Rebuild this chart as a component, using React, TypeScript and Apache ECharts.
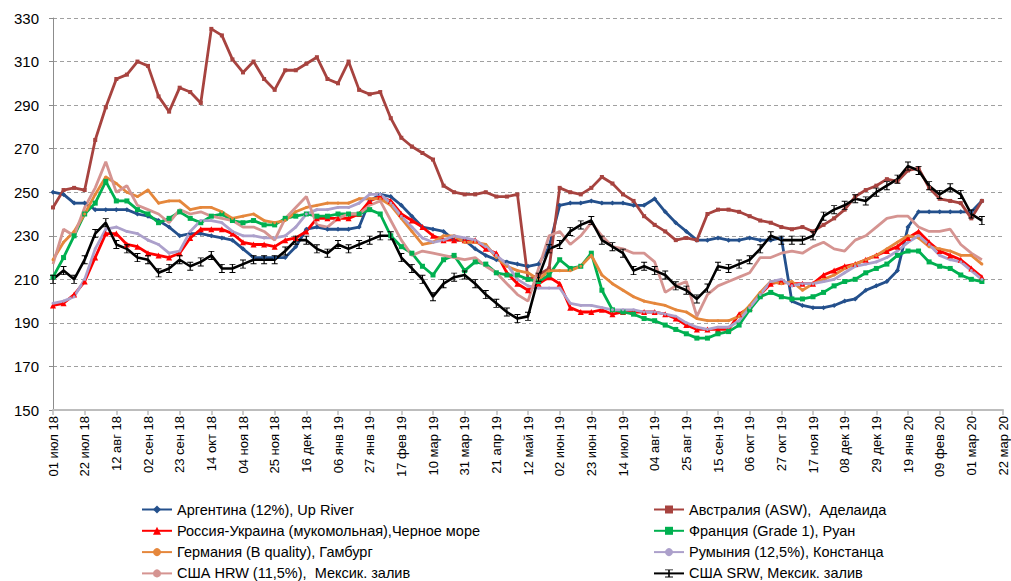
import React, { useEffect, useRef } from "react";
import * as echarts from "echarts";

// Weekly samples starting 01 Jul 2018 (day offset = index * 7)
const STEP_DAYS = 7;

const TICK_LABELS = [
  "01 июл 18", "22 июл 18", "12 авг 18", "02 сен 18", "23 сен 18", "14 окт 18",
  "04 ноя 18", "25 ноя 18", "16 дек 18", "06 янв 19", "27 янв 19", "17 фев 19",
  "10 мар 19", "31 мар 19", "21 апр 19", "12 май 19", "02 июн 19", "23 июн 19",
  "14 июл 19", "04 авг 19", "25 авг 19", "15 сен 19", "06 окт 19", "27 окт 19",
  "17 ноя 19", "08 дек 19", "29 дек 19", "19 янв 20", "09 фев 20", "01 мар 20",
  "22 мар 20",
];

const ARGENTINA = [
  250, 249, 245, 245, 242, 242, 242, 242, 240, 239,
  237, 234, 230, 231, 231, 230, 229, 228, 224, 220,
  220, 220, 220, 225, 233, 234, 233, 233, 233, 234,
  246, 249, 248, 244, 239, 234, 233, 232, 228, 228,
  224, 221, 219, 218, 217, 216, 217, 225, 244, 245,
  245, 246, 245, 245, 245, 244, 244, 247, 241, 236,
  232, 228, 228, 229, 228, 228, 229, 228, 228, 229,
  200, 198, 197, 197, 198, 200, 201, 205, 207, 209,
  214, 234, 241, 241, 241, 241, 241, 241, 246,
];

const AUSTRALIA = [
  243, 251, 252, 251, 274, 289, 302, 304, 310, 308,
  294, 287, 298, 296, 291, 325, 322, 311, 305, 310,
  302, 297, 306, 306, 309, 312, 302, 300, 310, 297,
  295, 296, 284, 275, 271, 268, 265, 253, 250, 249,
  249, 250, 248, 248, 249, 210, 212, 215, 252, 250,
  249, 252, 257, 254, 249, 246, 239, 235, 232, 228,
  229, 228, 240, 242, 242, 241, 239, 237, 236, 234,
  233, 234, 232, 235, 238, 242, 248, 251, 253, 256,
  255, 260, 261, 252, 247, 246, 245, 238, 246,
];

const RUSSIA = [
  198, 199, 203, 209, 220, 231, 231, 226, 225, 222,
  221, 220, 222, 229, 233, 233, 233, 231, 227, 226,
  226, 225, 228, 229, 232, 238, 238, 238, 238, 240,
  246, 248, 246, 240, 237, 234, 230, 228, 228, 228,
  228, 224, 222, 213, 208, 205, 208, 211, 208, 197,
  195, 195, 196, 194, 195, 195, 195, 195, 194, 192,
  189, 187, 187, 187, 187, 194, 197, 203, 208, 209,
  208, 208, 208, 212, 214, 216, 217, 219, 221, 223,
  225, 229, 232, 227, 223, 221, 219, 215, 211,
];

const FRANCE = [
  211, 220, 230, 240, 245, 255, 246, 246, 242, 240,
  236, 238, 241, 238, 236, 239, 240, 237, 236, 237,
  235, 235, 238, 239, 240, 239, 239, 240, 240, 240,
  242, 240, 230, 225, 222, 216, 212, 219, 221, 214,
  218, 217, 213, 212, 212, 210, 209, 212, 219, 215,
  216, 222, 205, 196, 195, 194, 192, 191, 189, 187,
  185, 183, 183, 185, 186, 189, 196, 202, 204, 202,
  201, 201, 202, 204, 207, 209, 210, 213, 215, 217,
  221, 223, 223, 218, 216, 215, 212, 210, 209,
];

const GERMANY = [
  219, 227, 232, 240, 249, 257, 254, 250, 248, 251,
  245, 246, 246, 242, 243, 243, 241, 238, 239, 240,
  237, 236, 237, 241, 243, 244, 245, 245, 245, 247,
  247, 247, 244, 238, 232, 226, 227, 230, 230, 227,
  227, 226, 220, 216, 214, 213, 210, 214, 214, 214,
  216, 221, 212, 208, 205, 202, 200, 199, 198, 196,
  195, 192, 191, 191, 191, 193, 198, 204, 209, 208,
  209, 205, 208, 210, 212, 215, 217, 219, 221, 224,
  227, 230, 229, 225, 224, 223, 221, 221, 217,
];

const ROMANIA = [
  199, 200, 202, 210, 224, 233, 234, 232, 231, 228,
  226, 222, 223, 232, 237, 237, 236, 232, 230, 230,
  229, 229, 230, 234, 240, 242, 242, 243, 243, 245,
  249, 249, 245, 239, 234, 229, 227, 228, 230, 229,
  228, 225, 221, 217, 210, 207, 206, 206, 206, 199,
  198, 198, 197, 196, 196, 196, 195, 195, 194, 193,
  190, 188, 187, 188, 188, 191, 197, 203, 209, 210,
  207, 208, 208, 209, 210, 213, 216, 217, 218, 220,
  223, 227, 230, 226, 221, 219, 218, 214, 210,
];

const USA_HRW = [
  217, 233, 230, 243, 252, 264, 250, 253, 244, 242,
  240, 236, 242, 240, 241, 239, 238, 237, 234, 234,
  232, 228, 238, 243, 248, 235, 234, 238, 240, 240,
  244, 246, 237, 228, 221, 223, 222, 221, 220, 219,
  220, 216, 213, 208, 203, 200, 215, 230, 232, 226,
  230, 236, 230, 225, 224, 222, 222, 218, 204, 207,
  209, 193, 203, 207, 209, 211, 213, 220, 220, 222,
  223, 222, 225, 227, 224, 223, 228, 230, 234, 238,
  239, 239, 234, 232, 232, 233, 226, 222, 219,
];

const USA_SRW = [
  210, 214, 210, 219, 231, 236, 226, 224, 220, 219,
  213, 215, 219, 216, 218, 221, 215, 215, 217, 219,
  219, 219, 223, 228, 228, 224, 222, 226, 224, 226,
  228, 230, 230, 220, 215, 210, 202, 208, 211, 212,
  208, 203, 199, 195, 192, 193, 211, 224, 226, 232,
  235, 237, 228, 225, 222, 214, 216, 214, 212, 207,
  205, 201, 206, 216, 215, 217, 219, 224, 230, 228,
  228, 228, 230, 239, 242, 244, 247, 246, 250, 253,
  256, 262, 260, 253, 249, 252, 249, 240, 237,
];

const NAMES = {
  arg: "Аргентина (12%), Up River",
  aus: "Австралия (ASW),  Аделаида",
  rus: "Россия-Украина (мукомольная),Черное море",
  fra: "Франция (Grade 1), Руан",
  ger: "Германия (B quality), Гамбург",
  rom: "Румыния (12,5%), Констанца",
  hrw: "США HRW (11,5%),  Мексик. залив",
  srw: "США SRW, Мексик. залив",
};

const LEFT_LEGEND = [NAMES.arg, NAMES.rus, NAMES.ger, NAMES.hrw];
const RIGHT_LEGEND = [NAMES.aus, NAMES.fra, NAMES.rom, NAMES.srw];

const IBEAM = "path://M0,0H10V2H6V18H10V20H0V18H4V2H0Z";
const FONT = 'Arial, "Liberation Sans", sans-serif';

function toPoints(vals: number[]) {
  return vals.map((v, i) => [i * STEP_DAYS, v]);
}

function lineSeries(name: string, vals: number[], color: string, symbol: string, symbolSize: any, width = 2.8) {
  return {
    name,
    type: "line",
    data: toPoints(vals),
    symbol,
    symbolSize,
    showSymbol: symbol !== "none",
    lineStyle: { color, width },
    itemStyle: { color },
    emphasis: { disabled: true },
  };
}

export default function App() {
  const ref = useRef<HTMLDivElement>(null);
  useEffect(() => {
    const chart = echarts.init(ref.current!, undefined, { renderer: "svg" });
    const legendText = { fontSize: 14.5, lineHeight: 15, color: "#000", fontFamily: FONT };
    const legendBase = {
      orient: "vertical",
      top: 502,
      height: 90,
      padding: 0,
      itemWidth: 30,
      itemHeight: 10,
      itemGap: 6.3,
      textStyle: legendText,
      selectedMode: false,
    };
    chart.setOption({
      animation: false,
      backgroundColor: "#fff",
      grid: { left: 53, right: 8, top: 18, bottom: 171, containLabel: false },
      xAxis: {
        type: "value",
        min: 0,
        max: 630,
        interval: 21,
        axisLine: { show: true, lineStyle: { color: "#BDBDBD", width: 2 } },
        axisTick: { show: true, length: 5, lineStyle: { color: "#BDBDBD", width: 1.5 } },
        splitLine: { show: false },
        axisLabel: {
          rotate: 90,
          margin: 6,
          fontSize: 13,
          color: "#000",
          fontFamily: FONT,
          hideOverlap: false,
          showMinLabel: true,
          showMaxLabel: true,
          formatter: (v: number) => TICK_LABELS[Math.round(v / 21)] ?? "",
        },
      },
      yAxis: {
        type: "value",
        min: 150,
        max: 330,
        interval: 20,
        axisLine: { show: true, lineStyle: { color: "#8C8C8C", width: 1 } },
        axisTick: { show: true, length: 4, lineStyle: { color: "#8C8C8C" } },
        splitLine: { show: true, lineStyle: { color: "#A0A0A0", type: [4, 3], width: 1 } },
        axisLabel: { fontSize: 15, color: "#000", fontFamily: FONT, margin: 14 },
      },
      legend: [
        { ...legendBase, data: LEFT_LEGEND, left: 141 },
        { ...legendBase, data: RIGHT_LEGEND, left: 653 },
      ],
      series: [
        lineSeries(NAMES.arg, ARGENTINA, "#24508C", "diamond", 5),
        lineSeries(NAMES.aus, AUSTRALIA, "#A7433F", "rect", 4),
        lineSeries(NAMES.rus, RUSSIA, "#FF0000", "triangle", 6),
        lineSeries(NAMES.fra, FRANCE, "#00B050", "rect", 5),
        lineSeries(NAMES.ger, GERMANY, "#E5873C", "circle", 3),
        lineSeries(NAMES.rom, ROMANIA, "#ACA0CB", "circle", 3),
        lineSeries(NAMES.hrw, USA_HRW, "#D59491", "none", 0),
        lineSeries(NAMES.srw, USA_SRW, "#000000", IBEAM, [6, 9], 2.6),
      ],
    });
    return () => chart.dispose();
  }, []);
  return (
    <div
      ref={ref}
      style={{ position: "absolute", left: 0, top: 0, width: 1011, height: 581 }}
    />
  );
}
